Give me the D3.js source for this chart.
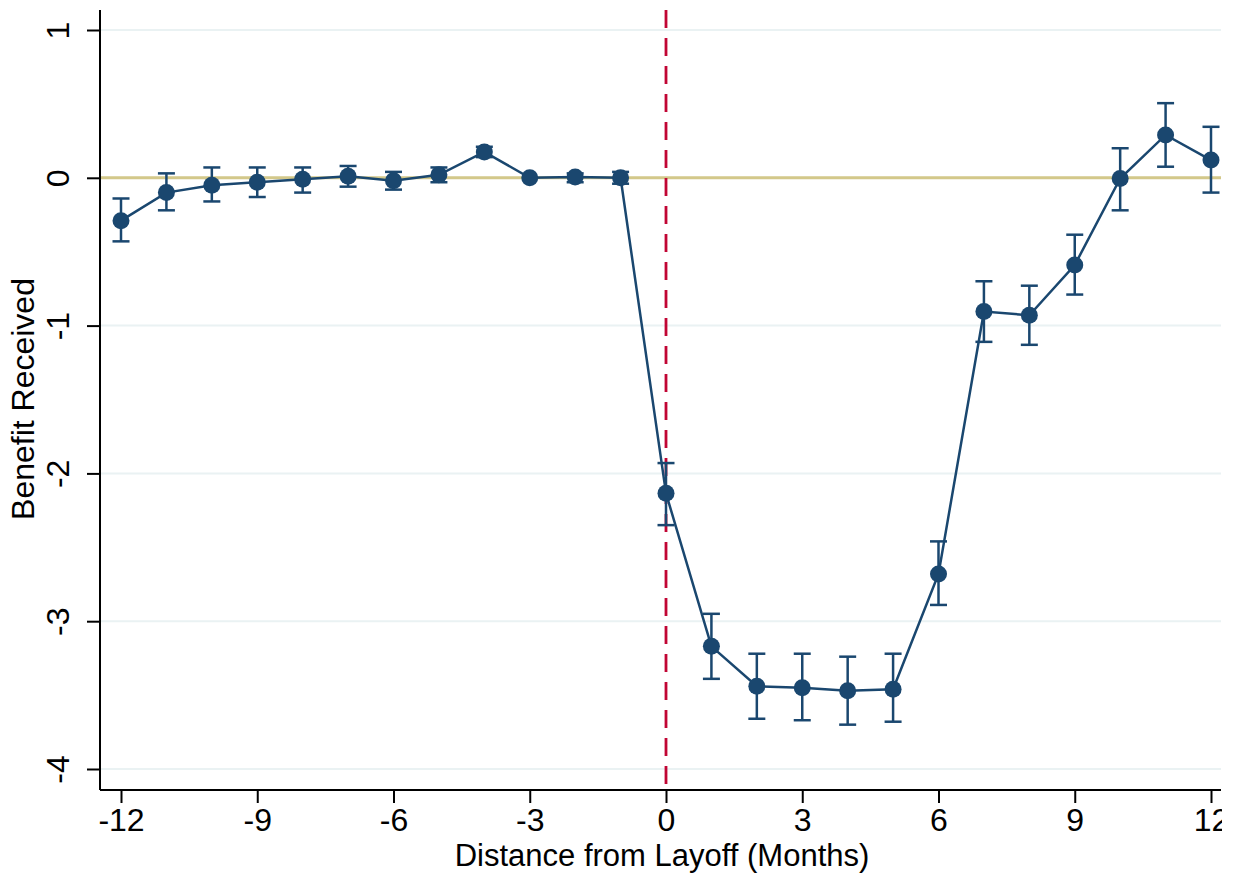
<!DOCTYPE html>
<html>
<head>
<meta charset="utf-8">
<script src="https://cdn.jsdelivr.net/npm/d3@7"></script>
<style>
  body { margin: 0; background: #fff; }
  text { font-family: "Liberation Sans", Arial, sans-serif; fill: #000; }
</style>
</head>
<body>
<svg width="1233" height="880"></svg>
<script>
const months = [-12, -11, -10, -9, -8, -7, -6, -5, -4, -3, -2, -1, 0, 1, 2, 3, 4, 5, 6, 7, 8, 9, 10, 11, 12]
const estimate = [-0.29, -0.10, -0.05, -0.03, -0.01, 0.01, -0.02, 0.02, 0.175, 0.0, 0.005, 0.0,
    -2.135, -3.17, -3.44, -3.45, -3.47, -3.46, -2.68, -0.905, -0.93, -0.59, -0.005, 0.29, 0.12]
const ciLow = [-0.43, -0.22, -0.16, -0.13, -0.10, -0.06, -0.08, -0.03, 0.14, 0.0, -0.03, -0.04,
    -2.35, -3.39, -3.66, -3.67, -3.70, -3.68, -2.89, -1.11, -1.13, -0.79, -0.22, 0.075, -0.10]
const ciHigh = [-0.14, 0.03, 0.07, 0.07, 0.07, 0.08, 0.04, 0.07, 0.21, 0.0, 0.03, 0.04,
    -1.93, -2.95, -3.22, -3.22, -3.24, -3.22, -2.46, -0.70, -0.73, -0.385, 0.20, 0.505, 0.345]
const xTicks = [-12, -9, -6, -3, 0, 3, 6, 9, 12]
const yTicks = [1, 0, -1, -2, -3, -4]

const data = months.map((m, i) => ({ m: m, v: estimate[i], lo: ciLow[i], hi: ciHigh[i] }))

const plotLeft = 100, plotRight = 1221, plotTop = 10, plotBottom = 790

const root = d3.select("svg")
// the original picture is cut off just right of the plot
root.append("clipPath").attr("id", "page")
    .append("rect")
    .attr("x", 0).attr("y", 0)
    .attr("width", plotRight + 1).attr("height", 880)
const svg = root.append("g").attr("clip-path", "url(#page)")

const x = d3.scaleLinear().domain([-12, 12]).range([121, 1211])
const y = d3.scaleLinear().domain([-4, 1]).range([769, 30])

const navy = "#1a476f"
const plainNum = d => String(d)   // hyphen minus, like the original

root.append("clipPath").attr("id", "plot")
    .append("rect")
    .attr("x", plotLeft).attr("y", plotTop)
    .attr("width", plotRight - plotLeft).attr("height", plotBottom - plotTop)

// grid
svg.append("g")
    .selectAll("line")
    .data(yTicks)
    .enter()
    .append("line")
    .attr("x1", plotLeft).attr("x2", plotRight)
    .attr("y1", d => y(d)).attr("y2", d => y(d))
    .attr("stroke", "#eaf2f3")
    .attr("stroke-width", 2)

const plot = svg.append("g").attr("clip-path", "url(#plot)")

// zero line
plot.append("line")
    .attr("x1", plotLeft).attr("x2", plotRight)
    .attr("y1", y(0)).attr("y2", y(0))
    .attr("stroke", "#d3c88a")
    .attr("stroke-width", 3)

// layoff line
plot.append("line")
    .attr("x1", x(0)).attr("x2", x(0))
    .attr("y1", plotTop).attr("y2", plotBottom)
    .attr("stroke", "#c10534")
    .attr("stroke-width", 2.8)
    .attr("stroke-dasharray", "18,10")

// error bars
const bars = plot.append("g")
    .attr("stroke", navy)
    .attr("stroke-width", 2.5)
    .selectAll("g")
    .data(data.filter(d => d.hi !== d.lo))
    .enter()
    .append("g")

bars.append("line")
    .attr("x1", d => x(d.m)).attr("x2", d => x(d.m))
    .attr("y1", d => y(d.lo)).attr("y2", d => y(d.hi))

bars.append("line")
    .attr("x1", d => x(d.m) - 8.5).attr("x2", d => x(d.m) + 8.5)
    .attr("y1", d => y(d.lo)).attr("y2", d => y(d.lo))

bars.append("line")
    .attr("x1", d => x(d.m) - 8.5).attr("x2", d => x(d.m) + 8.5)
    .attr("y1", d => y(d.hi)).attr("y2", d => y(d.hi))

// connecting line
plot.append("path")
    .datum(data)
    .attr("fill", "none")
    .attr("stroke", navy)
    .attr("stroke-width", 2.5)
    .attr("d", d3.line().x(d => x(d.m)).y(d => y(d.v)))

plot.append("g")
    .selectAll("circle")
    .data(data)
    .enter()
    .append("circle")
    .attr("cx", d => x(d.m))
    .attr("cy", d => y(d.v))
    .attr("r", 8.5)
    .attr("fill", navy)

// axes
const yAxis = svg.append("g")
    .attr("transform", "translate(" + plotLeft + ",0)")
    .call(d3.axisLeft(y).tickValues(yTicks).tickSize(13).tickFormat(plainNum))
yAxis.select(".domain").attr("d", "M0," + plotTop + "V" + plotBottom)

yAxis.selectAll(".tick line").attr("stroke-width", 2)
yAxis.selectAll(".tick text")
    .attr("x", 0).attr("dy", 0)
    .attr("text-anchor", "middle")
    .attr("transform", "translate(-31,0) rotate(-90)")
    .style("font-size", "32px")

const xAxis = svg.append("g")
    .attr("transform", "translate(0," + plotBottom + ")")
    .call(d3.axisBottom(x).tickValues(xTicks).tickSize(13).tickFormat(plainNum))
xAxis.select(".domain").attr("d", "M" + plotLeft + ",0H" + plotRight)
xAxis.selectAll(".tick line").attr("stroke-width", 2)
xAxis.selectAll(".tick text")
    .attr("y", 0).attr("dy", 0)
    .attr("transform", "translate(0,41)")
    .style("font-size", "32px")

svg.selectAll(".domain").attr("stroke", "#000").attr("stroke-width", 2)
svg.selectAll(".tick line").attr("stroke", "#000")
svg.selectAll(".tick text").style("font-family", "'Liberation Sans', Arial, sans-serif").attr("fill", "#000")

svg.append("text")
    .attr("x", 662).attr("y", 866)
    .attr("text-anchor", "middle")
    .style("font-size", "31px")
    .text("Distance from Layoff (Months)")

svg.append("text")
    .attr("transform", "translate(34,399) rotate(-90)")
    .attr("text-anchor", "middle")
    .style("font-size", "32px")
    .text("Benefit Received")
</script>
</body>
</html>
